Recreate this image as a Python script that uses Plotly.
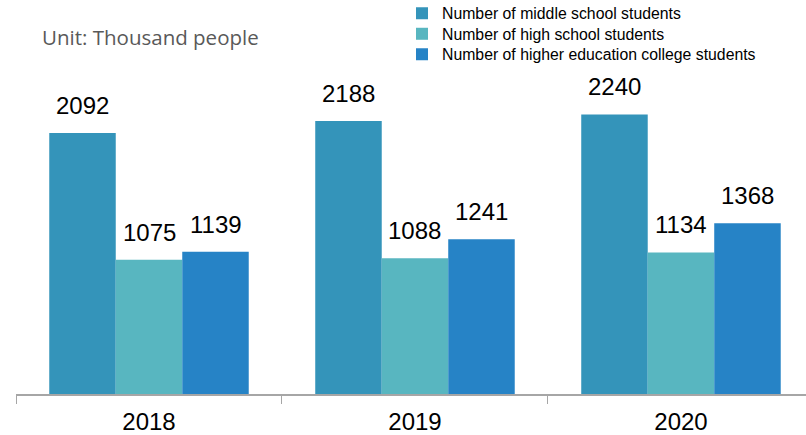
import plotly.graph_objects as go

years = ["2018", "2019", "2020"]
series_names = [
    "Number of middle school students",
    "Number of high school students",
    "Number of higher education college students",
]
middle = [2092, 2188, 2240]
high = [1075, 1088, 1134]
college = [1139, 1241, 1368]
colors = ["#3494BA", "#58B6C0", "#2683C6"]

values = [middle, high, college]
legend_ids = ["legend", "legend2", "legend3"]

fig = go.Figure()
for name, vals, col, lg in zip(series_names, values, colors, legend_ids):
    fig.add_trace(go.Bar(
        x=years, y=vals, name=name, legend=lg,
        marker=dict(color=col, line=dict(width=0)),
    ))

# value labels above bars
bar_px = 66.5
for i, vals in enumerate(values):
    for j, v in enumerate(vals):
        fig.add_annotation(
            x=j, y=v, text=str(v), showarrow=False,
            xref="x", yref="y", yanchor="bottom",
            xshift=(i - 1) * bar_px, yshift=12,
            font=dict(family="Arial", size=24, color="#000000"),
        )

fig.add_annotation(
    x=(40 - 16) / 790, y=(394 - 37) / 374, xref="paper", yref="paper",
    text="Unit: Thousand people",
    showarrow=False, xanchor="left", yanchor="middle",
    font=dict(family="Open Sans", size=20.5, color="#595959"),
)

legend_common = dict(
    x=(402 - 16) / 790, xanchor="left", yanchor="top",
    font=dict(family="Arial", size=15.8, color="#000000"),
    bgcolor="rgba(0,0,0,0)", itemwidth=30,
)
legend_tops = [-3.5, 17, 37.5]

fig.update_layout(
    width=806, height=435,
    margin=dict(l=16, r=0, t=20, b=41, autoexpand=False),
    paper_bgcolor="white", plot_bgcolor="white",
    barmode="group", bargap=0.25, bargroupgap=0,
    showlegend=True,
    legend=dict(y=(394 - legend_tops[0]) / 374, **legend_common),
    legend2=dict(y=(394 - legend_tops[1]) / 374, **legend_common),
    legend3=dict(y=(394 - legend_tops[2]) / 374, **legend_common),
    xaxis=dict(
        type="category", range=[-0.5, 2.47],
        showline=True, linecolor="#A6A6A6", linewidth=1.5,
        ticks="outside", tickson="boundaries", ticklen=8, tickcolor="#A6A6A6",
        tickfont=dict(family="Arial", size=24, color="#000000"),
        ticklabelstandoff=5,
        showgrid=False,
    ),
    yaxis=dict(
        range=[0, 2997], visible=False, showgrid=False, zeroline=False,
    ),
)

fig.write_html("out.html")
